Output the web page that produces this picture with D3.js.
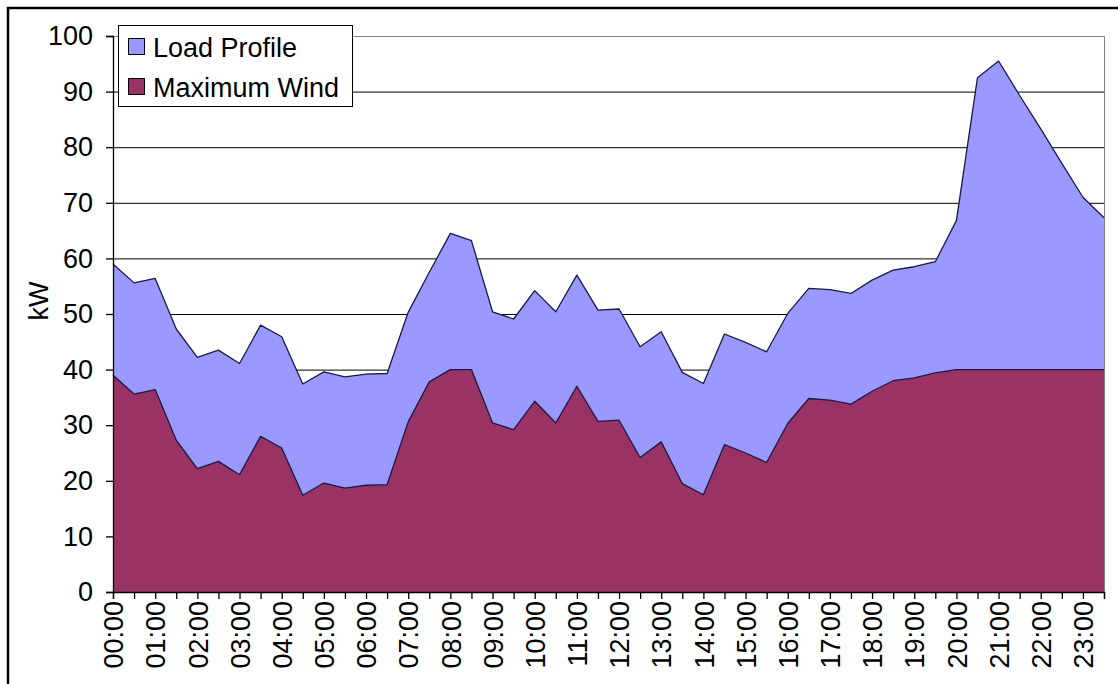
<!DOCTYPE html>
<html><head><meta charset="utf-8">
<script src="https://cdn.jsdelivr.net/npm/d3@7"></script>
<style>
body{margin:0;background:#fff}
svg{display:block}
text{font-family:"Liberation Sans",Arial,sans-serif;fill:#000}
</style>
</head><body>
<svg id="c" width="1118" height="684"></svg>
<script>
const categories = ["00:00","00:30","01:00","01:30","02:00","02:30","03:00","03:30",
  "04:00","04:30","05:00","05:30","06:00","06:30","07:00","07:30",
  "08:00","08:30","09:00","09:30","10:00","10:30","11:00","11:30",
  "12:00","12:30","13:00","13:30","14:00","14:30","15:00","15:30",
  "16:00","16:30","17:00","17:30","18:00","18:30","19:00","19:30",
  "20:00","20:30","21:00","21:30","22:00","22:30","23:00","23:30"];
const tickLabels = ["00:00","01:00","02:00","03:00","04:00","05:00","06:00","07:00",
  "08:00","09:00","10:00","11:00","12:00","13:00","14:00","15:00",
  "16:00","17:00","18:00","19:00","20:00","21:00","22:00","23:00"];
const loadProfile = [59.0,55.6,56.4,47.3,42.2,43.5,41.1,48.0,
  45.9,37.4,39.6,38.7,39.2,39.3,50.3,57.5,
  64.5,63.2,50.4,49.1,54.2,50.4,57.0,50.7,
  50.9,44.1,46.8,39.5,37.5,46.4,44.9,43.2,
  50.1,54.6,54.4,53.7,56.1,57.9,58.5,59.4,
  66.8,92.5,95.5,89.3,83.3,77.1,71.0,67.3];
const maximumWind = [39.0,35.6,36.4,27.3,22.2,23.5,21.1,28.0,
  25.9,17.4,19.6,18.7,19.2,19.3,30.6,37.8,
  40.0,40.0,30.4,29.2,34.3,30.4,37.0,30.7,
  30.9,24.2,27.0,19.5,17.5,26.5,25.0,23.3,
  30.3,34.8,34.5,33.8,36.1,38.0,38.5,39.4,
  40.0,40.0,40.0,40.0,40.0,40.0,40.0,40.0];
const yTicks = [0,10,20,30,40,50,60,70,80,90,100];
const seriesNames = ["Load Profile","Maximum Wind"];
const seriesColors = ["#9999FF","#993366"];
const yTitle = "kW";

const svg = d3.select("#c");
const L = 113, R = 1104, T = 36, B = 592;
const FS = 27;
const x = d3.scalePoint().domain(categories).range([L, R]);
const y = d3.scaleLinear().domain([0, 100]).range([B, T]);

// outer frame
svg.append("rect").attr("x", 8).attr("y", 8).attr("width", 1300).attr("height", 900)
  .attr("fill", "none").attr("stroke", "#000").attr("stroke-width", 2.5);

// gridlines
svg.append("g").selectAll("line").data(yTicks.filter(d => d > 0 && d < 100)).join("line")
  .attr("x1", L).attr("x2", R).attr("y1", d => y(d) + 0.5).attr("y2", d => y(d) + 0.5)
  .attr("stroke", "#000").attr("stroke-width", 1);

// plot border top/right (grey)
svg.append("path").attr("d", `M${L},${y(100)+0.5}H${R+0.5}V${B}`)
  .attr("fill", "none").attr("stroke", "#808080").attr("stroke-width", 1);

const series = [loadProfile, maximumWind];
const area = d3.area().x((d, i) => x(categories[i])).y0(y(0)).y1(d => y(d));
const line = d3.line().x((d, i) => x(categories[i])).y(d => y(d));
series.forEach((s, k) => {
  svg.append("path").datum(s).attr("d", area).attr("fill", seriesColors[k]);
  svg.append("path").datum(s).attr("d", line).attr("fill", "none")
    .attr("stroke", "#1a1a40").attr("stroke-width", 1.3).attr("stroke-linejoin", "round");
});

// y axis
const ya = svg.append("g").attr("transform", `translate(${L},0)`)
  .call(d3.axisLeft(y).tickValues(yTicks).tickSize(7).tickPadding(13).tickFormat(d3.format("d")));
ya.select(".domain").attr("stroke", "#000").attr("stroke-width", 1.3);
ya.selectAll(".tick line").attr("stroke", "#000").attr("stroke-width", 1.3);
ya.selectAll("text").attr("font-size", FS).attr("font-family", null);

// x axis
const xa = svg.append("g").attr("transform", `translate(0,${B})`)
  .call(d3.axisBottom(x).tickValues(categories).tickSize(7)
    .tickFormat(d => tickLabels.includes(d) ? d : ""));
xa.select(".domain").attr("stroke", "#000").attr("stroke-width", 1.3);
xa.selectAll(".tick line").attr("stroke", "#000").attr("stroke-width", 1.3);
xa.selectAll("text").attr("font-size", FS).attr("font-family", null)
  .attr("transform", "rotate(-90)").attr("y", 0).attr("x", -9).attr("dy", "0.36em")
  .attr("text-anchor", "end");

// y title
svg.append("text").attr("transform", "translate(38,301) rotate(-90)")
  .attr("text-anchor", "middle").attr("dy", "0.36em").attr("font-size", FS).text(yTitle);

// legend
const lg = svg.append("g");
lg.append("rect").attr("x", 118.5).attr("y", 25.5).attr("width", 234).attr("height", 81)
  .attr("fill", "#fff").attr("stroke", "#000").attr("stroke-width", 1);
seriesNames.forEach((n, k) => {
  const cy = 47 + k * 40;
  lg.append("rect").attr("x", 128.5).attr("y", cy - 8.5).attr("width", 16).attr("height", 16)
    .attr("fill", seriesColors[k]).attr("stroke", "#000").attr("stroke-width", 1);
  lg.append("text").attr("x", 153).attr("y", cy).attr("dy", "0.36em")
    .attr("font-size", FS).text(n);
});
</script>
</body></html>
